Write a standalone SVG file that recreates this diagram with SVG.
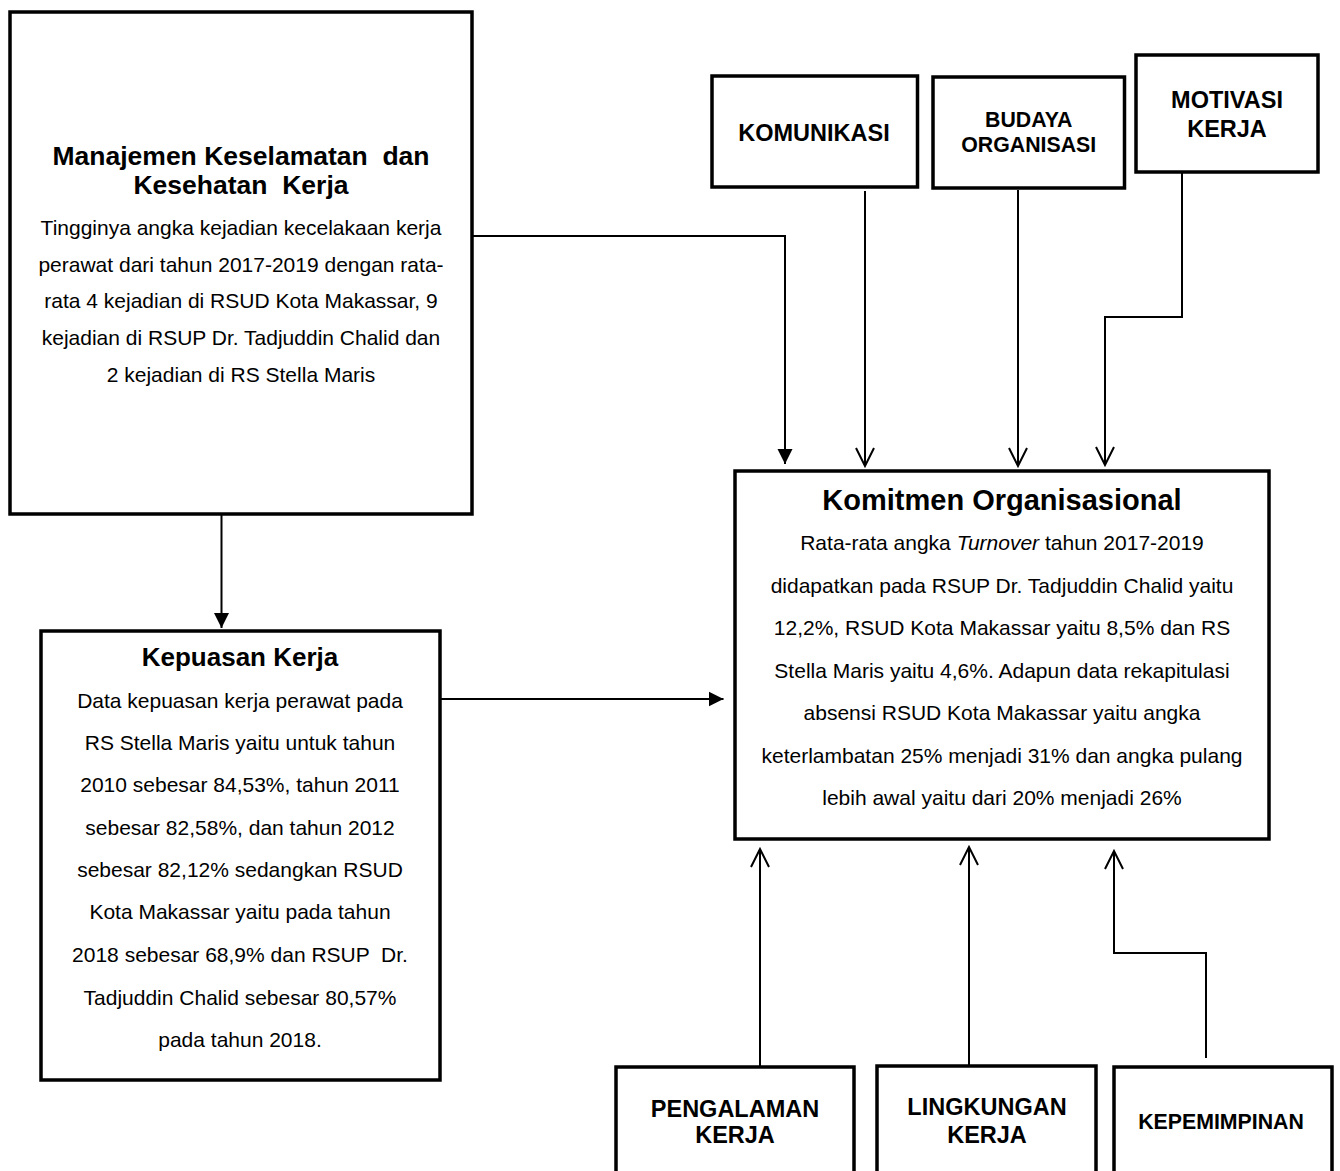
<svg xmlns="http://www.w3.org/2000/svg" width="1340" height="1171" viewBox="0 0 1340 1171">
<style>
  .box { fill: #ffffff; stroke: #000000; stroke-width: 3.5; }
  .con { fill: none; stroke: #000000; stroke-width: 2; }
  text { font-family: "Liberation Sans", Arial, sans-serif; fill: #000000; text-anchor: middle; }
  .title { font-weight: bold; }
  .body { font-size: 21px; }
  .lab { font-weight: bold; font-size: 23.5px; }
  .labs { font-weight: bold; font-size: 21.3px; }
</style>
<defs>
  <marker id="filled" markerUnits="userSpaceOnUse" markerWidth="16" markerHeight="18" viewBox="0 0 16 16" refX="15" refY="8" orient="auto">
    <path d="M0,0.5 L15,8 L0,15.5 Z" fill="#000000"/>
  </marker>
  <marker id="open" markerUnits="userSpaceOnUse" markerWidth="22" markerHeight="24" viewBox="0 0 22 24" refX="20" refY="12" orient="auto">
    <path d="M2,3 L20,12 L2,21" fill="none" stroke="#000000" stroke-width="2"/>
  </marker>
</defs>
<rect width="1340" height="1171" fill="#ffffff"/>

<g id="connectors">
  <path class="con" d="M472,236 H785 V464" marker-end="url(#filled)"/>
  <path class="con" d="M221.5,514 V628" marker-end="url(#filled)"/>
  <path class="con" d="M440,699 H723.5" marker-end="url(#filled)"/>
  <path class="con" d="M865,191 V466" marker-end="url(#open)"/>
  <path class="con" d="M1018,190 V466" marker-end="url(#open)"/>
  <path class="con" d="M1182,172 V317 H1105 V465" marker-end="url(#open)"/>
  <path class="con" d="M760,1067 V849" marker-end="url(#open)"/>
  <path class="con" d="M969,1065 V847" marker-end="url(#open)"/>
  <path class="con" d="M1206,1058 V953 H1114 V851" marker-end="url(#open)"/>
</g>

<g id="node-k3">
  <rect class="box" x="10" y="12" width="462" height="502"/>
  <text class="title" x="241" y="165" font-size="26.5" xml:space="preserve">Manajemen Keselamatan  dan</text>
  <text class="title" x="241" y="194" font-size="26.5" xml:space="preserve">Kesehatan  Kerja</text>
  <text class="body" x="241" y="235">Tingginya angka kejadian kecelakaan kerja</text>
  <text class="body" x="241" y="271.5">perawat dari tahun 2017-2019 dengan rata-</text>
  <text class="body" x="241" y="308">rata 4 kejadian di RSUD Kota Makassar, 9</text>
  <text class="body" x="241" y="345">kejadian di RSUP Dr. Tadjuddin Chalid dan</text>
  <text class="body" x="241" y="381.5">2 kejadian di RS Stella Maris</text>
</g>

<g id="node-kepuasan">
  <rect class="box" x="41" y="631" width="399" height="449"/>
  <text class="title" x="240" y="666" font-size="26">Kepuasan Kerja</text>
  <text class="body" x="240" y="708">Data kepuasan kerja perawat pada</text>
  <text class="body" x="240" y="750">RS Stella Maris yaitu untuk tahun</text>
  <text class="body" x="240" y="792">2010 sebesar 84,53%, tahun 2011</text>
  <text class="body" x="240" y="835">sebesar 82,58%, dan tahun 2012</text>
  <text class="body" x="240" y="877">sebesar 82,12% sedangkan RSUD</text>
  <text class="body" x="240" y="919">Kota Makassar yaitu pada tahun</text>
  <text class="body" x="240" y="962" xml:space="preserve">2018 sebesar 68,9% dan RSUP  Dr.</text>
  <text class="body" x="240" y="1005">Tadjuddin Chalid sebesar 80,57%</text>
  <text class="body" x="240" y="1047">pada tahun 2018.</text>
</g>

<g id="node-komitmen">
  <rect class="box" x="735" y="471" width="534" height="368"/>
  <text class="title" x="1002" y="510" font-size="29">Komitmen Organisasional</text>
  <text class="body" x="1002" y="550">Rata-rata angka <tspan font-style="italic">Turnover</tspan> tahun 2017-2019</text>
  <text class="body" x="1002" y="593">didapatkan pada RSUP Dr. Tadjuddin Chalid yaitu</text>
  <text class="body" x="1002" y="635">12,2%, RSUD Kota Makassar yaitu 8,5% dan RS</text>
  <text class="body" x="1002" y="678">Stella Maris yaitu 4,6%. Adapun data rekapitulasi</text>
  <text class="body" x="1002" y="720">absensi RSUD Kota Makassar yaitu angka</text>
  <text class="body" x="1002" y="763">keterlambatan 25% menjadi 31% dan angka pulang</text>
  <text class="body" x="1002" y="805">lebih awal yaitu dari 20% menjadi 26%</text>
</g>

<g id="node-komunikasi">
  <rect class="box" x="712" y="76" width="205.5" height="111"/>
  <text class="lab" x="814" y="141">KOMUNIKASI</text>
</g>

<g id="node-budaya">
  <rect class="box" x="933" y="77" width="191.5" height="111"/>
  <text class="labs" x="1028.7" y="127">BUDAYA</text>
  <text class="labs" x="1028.7" y="152">ORGANISASI</text>
</g>

<g id="node-motivasi">
  <rect class="box" x="1136" y="55" width="182" height="117"/>
  <text class="lab" x="1227" y="108">MOTIVASI</text>
  <text class="lab" x="1227" y="137">KERJA</text>
</g>

<g id="node-pengalaman">
  <rect class="box" x="616" y="1067" width="238" height="130"/>
  <text class="lab" x="735" y="1117">PENGALAMAN</text>
  <text class="lab" x="735" y="1143">KERJA</text>
</g>

<g id="node-lingkungan">
  <rect class="box" x="877" y="1066" width="219" height="130"/>
  <text class="lab" x="987" y="1115">LINGKUNGAN</text>
  <text class="lab" x="987" y="1143">KERJA</text>
</g>

<g id="node-kepemimpinan">
  <rect class="box" x="1114" y="1067" width="218" height="130"/>
  <text class="labs" x="1221" y="1129">KEPEMIMPINAN</text>
</g>
</svg>
